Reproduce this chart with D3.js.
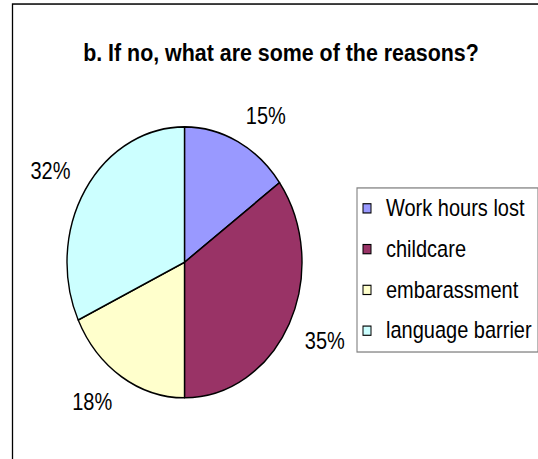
<!DOCTYPE html>
<html>
<head>
<meta charset="utf-8">
<script src="https://cdn.jsdelivr.net/npm/d3@7"></script>
<style>
  html, body { margin: 0; padding: 0; background: #fff; }
  svg { display: block; }
  text { font-family: "Liberation Sans", Arial, sans-serif; fill: #000; }
</style>
</head>
<body>
<svg id="chart" width="538" height="459"></svg>
<script>
const title = "b. If no, what are some of the reasons?";
const categories = ["Work hours lost", "childcare", "embarassment", "language barrier"];
const values = [15, 35, 18, 32];
const colors = ["#9999FF", "#993366", "#FFFFCC", "#CCFFFF"];

const W = 538, H = 459;
const vStretch = 1.153;
const svg = d3.select("#chart");
const root = svg.append("g").attr("transform", `scale(1,${vStretch})`);

// frame
root.append("rect")
  .attr("x", 12.5).attr("y", 3.5)
  .attr("width", 600).attr("height", 600)
  .attr("fill", "#fff").attr("stroke", "#000").attr("stroke-width", 1.3);

// title
root.append("text")
  .attr("x", 281).attr("y", 52.9)
  .attr("text-anchor", "middle")
  .attr("font-size", 21.4).attr("font-weight", "bold")
  .text(title);

// pie
const cx = 184.5, cy = 227.5, r = 117.5;
const color = d3.scaleOrdinal().domain(categories).range(colors);
const pie = d3.pie().sort(null).value(d => d.value);
const data = categories.map((c, i) => ({ name: c, value: values[i] }));
const arcs = pie(data);
const arc = d3.arc().innerRadius(0).outerRadius(r);
const total = d3.sum(values);

const pg = root.append("g").attr("transform", `translate(${cx},${cy})`);
pg.selectAll("path.slice")
  .data(arcs)
  .join("path")
  .attr("class", "slice")
  .attr("d", arc)
  .attr("fill", d => color(d.data.name))
  .attr("stroke", "#000")
  .attr("stroke-width", 1.4)
  .attr("stroke-linejoin", "round");

// labels (outside, Excel-like: nearest corner of label box sits on the mid-angle ray)
const labelFont = 20;
const capH = labelFont * 0.716;
const labelDist = 135;
pg.selectAll("text.lbl")
  .data(arcs)
  .join("text")
  .attr("class", "lbl")
  .attr("font-size", labelFont)
  .attr("text-anchor", "middle")
  .text(d => Math.round(d.data.value / total * 100) + "%")
  .each(function(d) {
    const a = (d.startAngle + d.endAngle) / 2;
    const dx = Math.sin(a), dy = -Math.cos(a);
    const w = this.getComputedTextLength();
    const px = dx * labelDist, py = dy * labelDist;
    const bx = px + Math.sign(dx) * w / 2;
    const by = py + Math.sign(dy) * capH / 2;
    d3.select(this).attr("x", bx).attr("y", by + capH / 2);
  });

// legend
const lx = 357, ly = 163, lw = 181, lh = 142.3;
root.append("rect")
  .attr("x", lx).attr("y", ly)
  .attr("width", lw).attr("height", lh)
  .attr("fill", "#fff").attr("stroke", "#808080").attr("stroke-width", 1.1);

const legY = d3.scalePoint().domain(categories).range([180.7, 286.8]);
const lg = root.append("g");
const items = lg.selectAll("g.item").data(categories).join("g").attr("class", "item")
  .attr("transform", d => `translate(0,${legY(d)})`);
items.append("rect")
  .attr("x", 363).attr("y", -4).attr("width", 8).attr("height", 8)
  .attr("fill", d => color(d)).attr("stroke", "#000").attr("stroke-width", 1);
items.append("text")
  .attr("x", 386).attr("y", 6.6)
  .attr("font-size", 20)
  .text(d => d);
</script>
</body>
</html>
